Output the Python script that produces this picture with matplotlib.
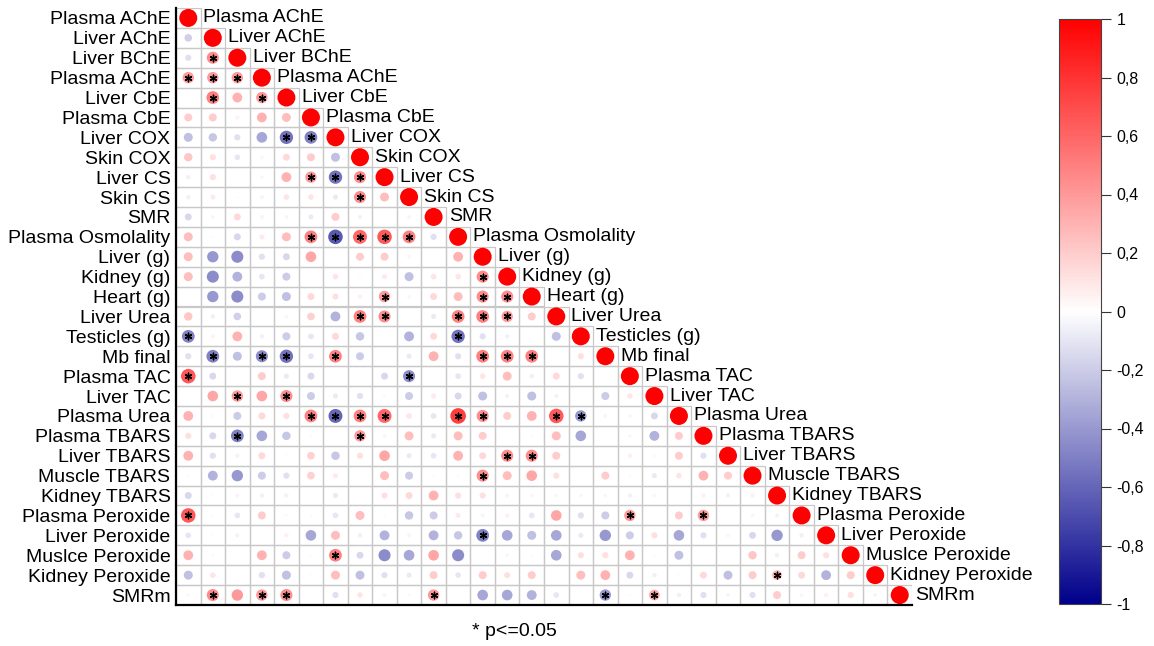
import numpy as np
import matplotlib.pyplot as plt
from matplotlib.colors import LinearSegmentedColormap, Normalize
from matplotlib.cm import ScalarMappable
from matplotlib.patches import Rectangle

plt.rcParams['font.family'] = ['Liberation Sans', 'DejaVu Sans']

labels = ["Plasma AChE", "Liver AChE", "Liver BChE", "Plasma AChE", "Liver CbE",
          "Plasma CbE", "Liver COX", "Skin COX", "Liver CS", "Skin CS", "SMR",
          "Plasma Osmolality", "Liver (g)", "Kidney (g)", "Heart (g)", "Liver Urea",
          "Testicles (g)", "Mb final", "Plasma TAC", "Liver TAC", "Plasma Urea",
          "Plasma TBARS", "Liver TBARS", "Muscle TBARS", "Kidney TBARS",
          "Plasma Peroxide", "Liver Peroxide", "Muslce Peroxide", "Kidney Peroxide", "SMRm"]

# lower triangle, one list per row (values left of the diagonal)
row_02 = [-0.18]
row_03 = [-0.12, 0.45]
row_04 = [0.40, 0.40, 0.40]
row_05 = [0.01, 0.50, 0.30, 0.40]
row_06 = [0.20, 0.20, 0.05, 0.30, 0.25]
row_07 = [-0.25, -0.22, -0.12, -0.35, -0.55, -0.50]
row_08 = [0.22, 0.12, -0.10, 0.04, 0.15, 0.20, -0.25]
row_09 = [-0.06, 0.12, 0.01, 0.04, 0.30, 0.40, -0.55, 0.45]
row_10 = [-0.06, 0.08, 0.02, 0.05, 0.10, 0.10, -0.08, 0.45, 0.25]
row_11 = [-0.15, 0.05, 0.15, 0.05, -0.04, -0.08, 0.20, -0.05, 0.0, -0.04]
row_12 = [0.25, 0.02, -0.15, 0.08, 0.25, 0.50, -0.65, 0.60, 0.65, 0.50, -0.12]
row_13 = [0.25, -0.40, -0.45, -0.12, -0.15, 0.35, 0.0, 0.20, 0.20, 0.04, 0.01, 0.30]
row_14 = [0.25, -0.45, -0.30, -0.10, -0.20, 0.0, 0.10, 0.02, 0.08, -0.25, 0.10, 0.10, 0.45]
row_15 = [0.01, -0.40, -0.45, -0.20, -0.25, 0.15, 0.12, 0.06, 0.40, 0.04, 0.15, 0.25, 0.45, 0.45]
row_16 = [0.22, -0.06, -0.18, 0.01, 0.04, 0.18, -0.30, 0.50, 0.45, 0.0, -0.08, 0.50, 0.50,
          0.40, 0.20]
row_17 = [-0.50, 0.05, 0.30, -0.06, -0.20, -0.10, 0.15, -0.22, 0.01, -0.30, 0.15, -0.55,
          -0.12, -0.06, 0.0, -0.25]
row_18 = [-0.12, -0.50, -0.25, -0.45, -0.55, -0.10, 0.50, -0.20, 0.01, -0.08, 0.30, -0.12,
          0.50, 0.50, 0.50, 0.0, 0.12]
row_19 = [0.65, -0.15, 0.0, 0.20, -0.08, -0.15, 0.0, 0.0, -0.15, -0.45, 0.0, -0.10, 0.10,
          0.25, -0.06, 0.15, -0.12, 0.0]
row_20 = [0.01, 0.35, 0.40, 0.35, 0.45, -0.20, -0.08, -0.12, 0.03, -0.20, 0.08, -0.15,
          -0.25, -0.05, -0.25, -0.05, 0.0, -0.20, 0.10]
row_21 = [0.30, 0.03, -0.20, 0.15, 0.12, 0.50, -0.60, 0.50, 0.60, 0.10, -0.10, 0.75, 0.45,
          0.20, 0.30, 0.65, -0.40, -0.04, 0.04, -0.15]
row_22 = [0.12, -0.15, -0.50, -0.35, -0.22, 0.02, 0.0, 0.40, 0.04, 0.25, -0.08, 0.25, 0.20,
          0.0, 0.02, 0.25, -0.35, 0.0, 0.04, -0.30, 0.20]
row_23 = [0.30, -0.12, -0.05, 0.15, 0.02, 0.18, -0.22, 0.12, 0.35, -0.08, -0.10, 0.30, 0.15,
          0.45, 0.45, 0.20, 0.0, 0.01, 0.06, 0.03, 0.20, -0.12]
row_24 = [0.02, -0.30, -0.40, -0.20, -0.12, 0.18, 0.08, 0.0, 0.25, -0.20, 0.03, 0.03, 0.45,
          0.25, 0.35, 0.12, 0.0, 0.20, 0.03, -0.08, 0.10, 0.30, 0.20]
row_25 = [-0.15, 0.02, 0.05, -0.06, 0.06, 0.0, -0.08, 0.01, 0.12, 0.15, 0.30, 0.12, 0.12,
          0.05, 0.04, 0.04, 0.04, 0.04, -0.06, 0.04, 0.01, 0.06, -0.05, 0.06]
row_26 = [0.65, 0.02, -0.10, 0.20, 0.03, 0.03, -0.10, 0.25, 0.02, -0.22, -0.20, 0.08, 0.05,
          0.06, -0.10, 0.35, -0.12, -0.20, 0.40, 0.01, 0.20, 0.40, 0.0, 0.04, -0.05]
row_27 = [-0.10, 0.02, -0.05, 0.01, 0.06, -0.35, 0.25, -0.06, -0.30, 0.05, -0.30, -0.22,
          -0.50, -0.35, -0.25, -0.35, -0.08, -0.40, -0.20, 0.12, -0.35, -0.12, 0.04, -0.15,
          -0.40, -0.06]
row_28 = [0.30, 0.03, 0.0, 0.30, -0.20, 0.02, 0.50, -0.15, -0.45, -0.35, 0.35, -0.45, 0.0,
          0.04, 0.02, -0.35, 0.12, 0.12, 0.30, 0.02, -0.25, 0.01, 0.01, 0.22, -0.06, 0.20, 0.12]
row_29 = [-0.25, 0.10, 0.01, -0.12, -0.25, 0.02, 0.25, -0.25, -0.12, -0.08, 0.20, -0.10, 0.20,
          0.12, 0.20, 0.01, 0.25, 0.30, -0.15, -0.06, 0.02, 0.15, -0.25, 0.20, 0.30, 0.15,
          -0.30, 0.20]
row_30 = [-0.03, 0.45, 0.40, 0.40, 0.45, 0.0, -0.12, 0.10, 0.05, 0.03, 0.40, 0.0, -0.35, -0.35,
          -0.30, -0.10, 0.0, -0.40, 0.02, 0.35, -0.06, -0.12, -0.04, -0.12, 0.20, 0.04, 0.06,
          0.12, -0.04]

# significant cells (row, column), 1-based
stars = [(3, 2), (4, 1), (4, 2), (4, 3), (5, 2), (5, 4), (7, 5), (7, 6),
         (9, 6), (9, 7), (9, 8), (10, 8),
         (12, 6), (12, 7), (12, 8), (12, 9), (12, 10), (14, 13),
         (15, 9), (15, 13), (15, 14), (16, 8), (16, 9), (16, 12), (16, 13), (16, 14),
         (17, 1), (17, 12), (18, 2), (18, 4), (18, 5), (18, 7), (18, 13), (18, 14), (18, 15),
         (19, 1), (19, 10), (20, 3), (20, 5),
         (21, 6), (21, 7), (21, 8), (21, 9), (21, 12), (21, 13), (21, 16), (21, 17),
         (22, 3), (22, 8), (23, 14), (23, 15), (24, 13), (26, 1), (26, 19), (26, 22),
         (27, 13), (28, 7), (29, 25),
         (30, 2), (30, 4), (30, 5), (30, 11), (30, 18), (30, 20)]

rows = [[], row_02, row_03, row_04, row_05, row_06, row_07, row_08, row_09, row_10,
        row_11, row_12, row_13, row_14, row_15, row_16, row_17, row_18, row_19, row_20,
        row_21, row_22, row_23, row_24, row_25, row_26, row_27, row_28, row_29, row_30]

n = len(labels)
corr = np.eye(n)
for i, vals in enumerate(rows):
    corr[i, :len(vals)] = vals

cmap = LinearSegmentedColormap.from_list('corr', ['#00008B', '#FFFFFF', '#FF0000'])
norm = Normalize(-1, 1)

W, H = 1154, 646
fig = plt.figure(figsize=(W / 100, H / 100), dpi=100)
ax = fig.add_axes([176 / W, 1 - 605 / H, 736 / W, 597 / H])
ax.set_xlim(0, n)
ax.set_ylim(n, 0)

# staircase grid
for i in range(n):
    for j in range(i + 1):
        ax.add_patch(Rectangle((j, i), 1, 1, fill=False, ec='#c8c8c8', lw=0.9, zorder=1))

ii, jj = np.tril_indices(n)
vals = corr[ii, jj]
diam = 18 * np.sqrt(np.abs(vals))          # pixels
ax.scatter(jj + 0.5, ii + 0.5, s=(diam * 0.72) ** 2, c=vals, cmap=cmap, norm=norm,
           edgecolors='none', zorder=2)

sr = np.array([s[0] for s in stars])
sc = np.array([s[1] for s in stars])
ax.scatter(sc - 0.5, sr - 0.5, marker=(6, 2, 0), s=22, c='black', lw=1.0, zorder=3)

for i, lab in enumerate(labels):
    ax.text(i + 1.12, i + 0.5, lab, fontsize=14, ha='left', va='center', clip_on=False)

ax.set_yticks(np.arange(n) + 0.5)
ax.set_yticklabels(labels, fontsize=14)
ax.tick_params(axis='y', length=0, pad=4)
ax.set_xticks([])
for side in ['top', 'right']:
    ax.spines[side].set_visible(False)
for side in ['left', 'bottom']:
    ax.spines[side].set_linewidth(1.6)
    ax.spines[side].set_color('black')

# colorbar
cax = fig.add_axes([1059 / W, 1 - 604 / H, 42 / W, 585 / H])
ticks = np.round(np.arange(-1, 1.01, 0.2), 1)
cb = fig.colorbar(ScalarMappable(norm=norm, cmap=cmap), cax=cax, ticks=ticks)
cb.ax.set_yticklabels([('%g' % t).replace('.', ',') if abs(t) > 1e-9 else '0' for t in ticks],
                      fontsize=11.5)
cb.ax.tick_params(length=7, width=0.8, color='#333333', pad=4)
cb.outline.set_linewidth(0.8)
cb.outline.set_edgecolor('#444444')

fig.text(514 / W, 1 - 632 / H, '* p<=0.05', fontsize=14, ha='center', va='center')

fig.savefig('out.png', dpi=100)
